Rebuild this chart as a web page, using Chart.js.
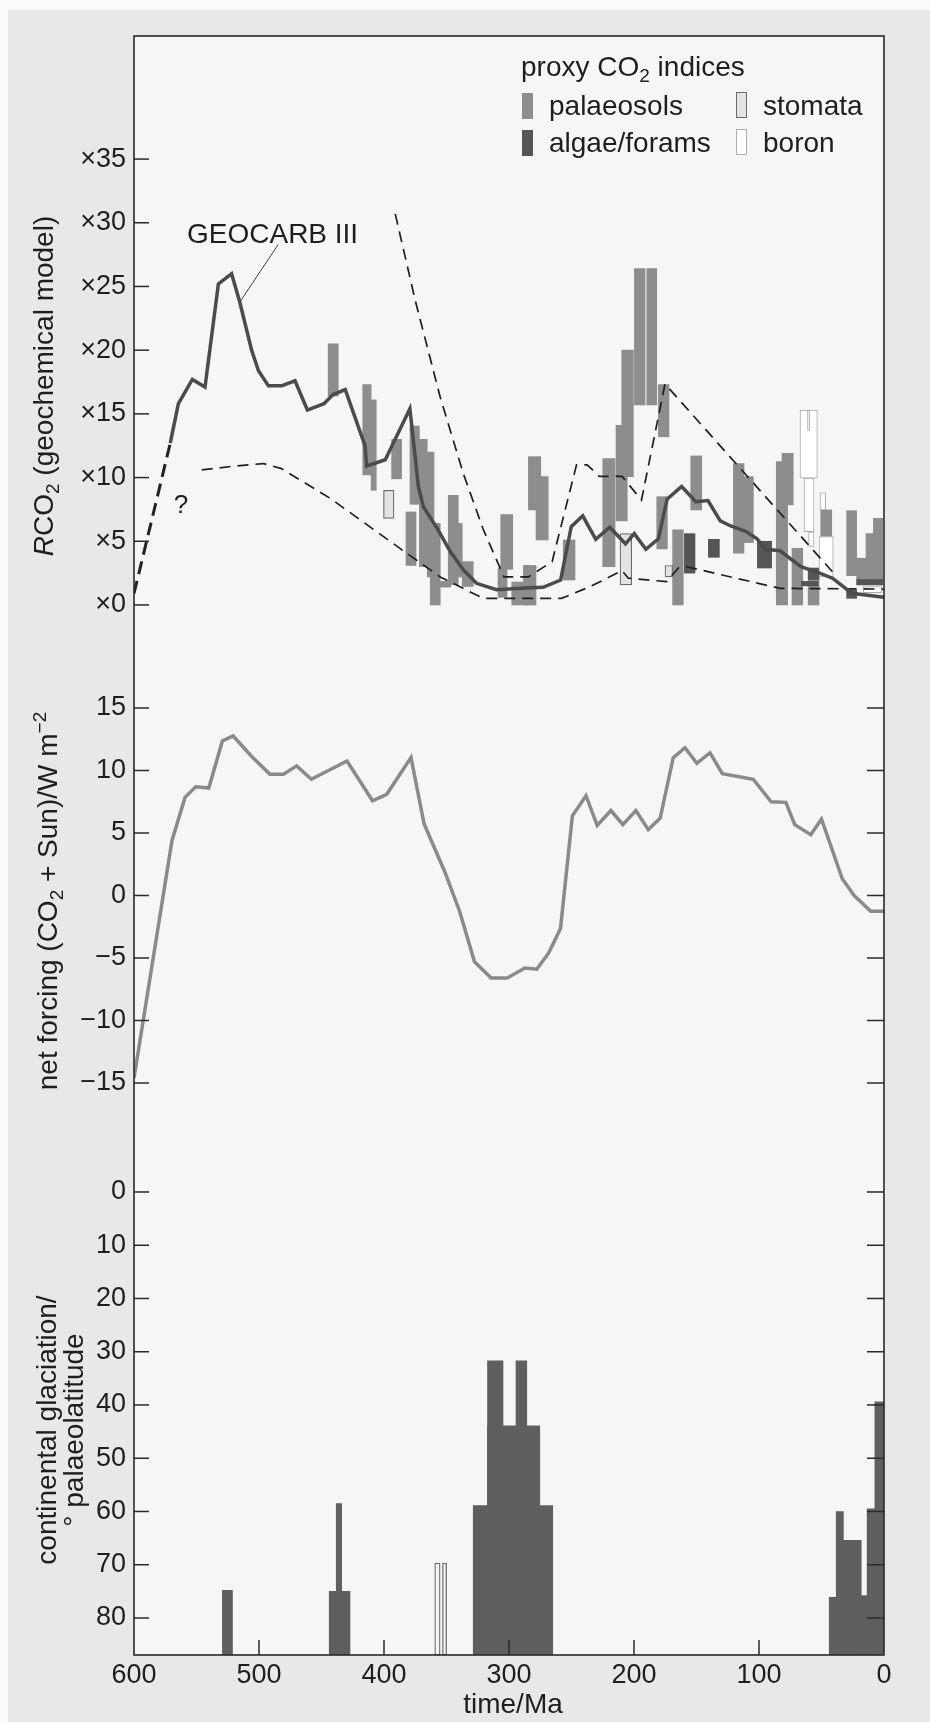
<!DOCTYPE html>
<html>
<head>
<meta charset="utf-8">
<script src="https://cdn.jsdelivr.net/npm/chart.js@4.4.1/dist/chart.umd.min.js"></script>
<style>
  html, body { margin: 0; padding: 0; background: #fbfbfb; }
  canvas { display: block; }
</style>
</head>
<body>
<canvas id="chart" width="930" height="1722"></canvas>
<script>
// ---- data ----
const timeTicks = [600, 500, 400, 300, 200, 100, 0];
const co2Ticks = [0, 5, 10, 15, 20, 25, 30, 35];
const forcingTicks = [-15, -10, -5, 0, 5, 10, 15];
const latTicks = [0, 10, 20, 30, 40, 50, 60, 70, 80];

// GEOCARB III, [Ma, RCO2]
const geocarbEarly = [[600, 0.9], [571, 12.7]];
const geocarb = [
    [571, 12.7], [564.5, 15.8], [553.3, 17.7], [543.2, 17.1], [532.5, 25.2], [521.9, 26.0],
    [515.2, 23.7], [505.9, 20.0], [500.5, 18.4], [492.5, 17.2], [481.9, 17.2], [471.2, 17.6],
    [461.3, 15.3], [448, 15.8], [441, 16.5], [431, 16.9], [415.2, 12.5], [413.8, 10.9],
    [399, 11.4], [379.3, 15.4], [372.5, 9.3], [368.5, 7.7], [358, 6.1], [347, 4.2],
    [336.5, 2.75], [326, 1.7], [310, 1.2], [283, 1.35], [272.7, 1.39], [258.7, 1.96],
    [250.2, 6.15], [241, 7.0], [230.6, 5.15], [219.4, 6.1], [206.8, 4.8], [199.8, 5.6],
    [190.5, 4.37], [180.5, 5.2], [173.5, 8.3], [161.9, 9.3], [150.6, 8.1], [140.8, 8.2],
    [131, 6.6], [122.6, 6.2], [110, 5.75], [101.6, 5.2], [94.6, 4.37], [83.3, 4.26],
    [66.5, 3.0], [52.5, 2.54], [41.2, 2.1], [25.8, 0.92], [0, 0.6]
];
const upperBound = [
    [391, 30.7], [375, 23.9], [355, 16.3], [336.5, 10.3], [320.5, 5.9], [304, 2.2],
    [284.5, 2.2], [265.5, 3.4], [246, 11.0], [237.5, 11.0], [227.8, 10.1], [209.6, 10.1],
    [194, 8.24], [175.2, 17.35], [41.2, 2.6]
];
const lowerBound = [
    [545.8, 10.6], [520, 10.9], [496.5, 11.1], [482, 10.7], [443, 8.37], [381, 4.0],
    [355, 2.2], [326, 0.78], [320, 0.52], [258, 0.52], [235, 1.44], [209.6, 2.7],
    [204.5, 2.1], [174, 1.83], [164.5, 2.9], [158, 3.0], [83, 1.3], [0, 1.25]
];

// proxy ranges, [older Ma, younger Ma, low, high]
const palaeosols = [
    [444.7, 436.6, 16.4, 20.5], [417, 410.3, 10.2, 17.3], [410.3, 406.2, 9.0, 16.1],
    [393.9, 385.9, 9.9, 13.0], [382.4, 374.4, 3.1, 7.3], [379.2, 371.7, 7.9, 14.05],
    [371.7, 365.4, 3.0, 13.0], [365.4, 360, 2.2, 12.0], [363, 355, 0.0, 6.4],
    [355, 346.6, 1.4, 1.85], [348.6, 340.6, 1.6, 8.6], [340.6, 337.4, 2.2, 6.4],
    [337.4, 328.6, 1.45, 3.4], [306.6, 297, 2.8, 7.1], [308.8, 301.6, 0.6, 2.9],
    [297.8, 288.5, 0.0, 1.8], [288.5, 283.2, 0.0, 3.1], [287.2, 278.4, 0.0, 3.1],
    [284.5, 274.6, 7.46, 11.64], [278.4, 268.6, 5.1, 10.07], [256.6, 247.2, 1.96, 5.1],
    [225, 215.2, 3.0, 11.5], [214.4, 205.4, 6.6, 14.1], [209.8, 200.5, 10.07, 20.0],
    [199.7, 191.2, 15.7, 26.4], [189.8, 181.8, 15.7, 26.4], [180.5, 172, 13.2, 17.3],
    [181.8, 173.3, 4.4, 8.5], [169.1, 160.6, 0.0, 5.9], [154.6, 145.8, 7.46, 11.7],
    [120.5, 112, 4.06, 11.1], [112, 104.5, 4.9, 10.07], [86.2, 77.1, 0.0, 11.25],
    [81.6, 72.6, 7.86, 11.9], [73.6, 65, 0.0, 4.45], [60.7, 52, 0.0, 2.8],
    [50.6, 41.8, 5.4, 7.46], [29.9, 21.9, 2.3, 7.4], [21.9, 13.9, 1.96, 3.67],
    [14.4, 8.5, 1.96, 5.6], [8.5, 1.0, 1.96, 6.8]
];
const algaeForams = [
    [159.7, 151.2, 2.5, 5.6], [140.5, 131.7, 3.74, 5.15], [101.3, 89.9, 2.9, 5.0],
    [60.5, 52, 2.0, 2.9], [66, 52.6, 1.5, 1.85], [21.9, 1.0, 1.57, 2.0], [29.9, 21.9, 0.52, 1.18]
];
const stomata = [
    [400.4, 392, 6.8, 9.0], [211.2, 201.8, 1.57, 5.6], [175.2, 169.1, 2.2, 3.1]
];
const boron = [
    [67.2, 53.3, 9.95, 15.3], [64, 56, 5.75, 9.95], [60.3, 56, 4.6, 5.75],
    [51.2, 46.7, 7.46, 8.8], [52, 40.6, 2.2, 5.36], [16.6, 1.9, 0.97, 1.44]
];
const boronNotch = [[61.2, 59.3, 13.7, 15.3]];

// net forcing, [Ma, W m-2]
const forcing = [
    [600, -14.6], [569.6, 4.4], [559.2, 7.85], [550.6, 8.7], [540.2, 8.6], [529.3, 12.36],
    [520.7, 12.76], [505.6, 11.1], [491.3, 9.7], [480.4, 9.7], [469.9, 10.37], [458.1, 9.3],
    [429.6, 10.76], [409.2, 7.58], [397.8, 8.1], [378.4, 11.03], [367.9, 5.72], [351.3, 1.88],
    [339.4, -1.3], [327.6, -5.3], [314.3, -6.6], [301.5, -6.6], [287.3, -5.8], [277.8, -5.9],
    [268.3, -4.6], [258.8, -2.64], [249.3, 6.38], [238.4, 7.98], [229.4, 5.6], [218.5, 6.8],
    [208.9, 5.67], [198.5, 6.8], [188.6, 5.27], [179.1, 6.18], [168.6, 11.03], [159.2, 11.82],
    [149.7, 10.58], [139.2, 11.42], [129.3, 9.75], [104.6, 9.3], [90.3, 7.5], [78.5, 7.45],
    [71.4, 5.67], [58.6, 4.87], [50, 6.12], [33.4, 1.34], [23.9, 0.0], [10.6, -1.26], [0, -1.26]
];

// continental glaciation, [older Ma, younger Ma, palaeolatitude reached]
const glaciation = [
    [529.3, 521.2, 74.8], [443.8, 427.2, 75], [438.2, 433.9, 58.5],
    [328.6, 265, 58.9], [317.2, 275.4, 43.9], [317.2, 304.8, 31.7], [294.4, 285.8, 31.7],
    [43.8, 38.2, 76.1], [38.2, 32.5, 60], [32.5, 18.2, 65.4], [18.2, 13.5, 75.8],
    [13.5, 0, 59.5], [7.3, 0, 39.4]
];
const glaciationOutlined = [[359.4, 355.1, 69.7], [353.2, 349.9, 69.7]];

// ---- layout ----
const FONT = '"Liberation Sans", Arial, Helvetica, sans-serif';
Chart.defaults.font.family = FONT;
Chart.defaults.color = '#1e1e1e';

const W = 930, H = 1722;
const area = {left: 134, right: 884, top: 36, bottom: 1655};
const pxPerMa = (area.right - area.left) / 600;
const latMax = 86.95;

const pts = a => a.map(p => ({x: p[0], y: p[1]}));

function boxes(list, axis, fill, order, line, lw) {
    return list.map(r => ({
        type: 'bar', yAxisID: axis, stack: 'proxy', order: order,
        barThickness: Math.abs(r[0] - r[1]) * pxPerMa,
        backgroundColor: fill, borderColor: line || fill, borderWidth: lw || 0,
        borderSkipped: false,
        data: [{x: (r[0] + r[1]) / 2, y: [r[2], r[3]]}]
    }));
}

const toBase = list => list.map(r => [r[0], r[1], r[2], latMax]);

const datasets = [].concat(
    boxes(palaeosols, 'yC', '#8d8d8d', 9),
    boxes(stomata, 'yC', '#e3e3e3', 8, '#6a6a6a', 1.2),
    boxes(algaeForams, 'yC', '#555555', 7),
    boxes(boron, 'yC', '#ffffff', 6, '#a8a8a8', 1),
    boxes(boronNotch, 'yC', '#f6f6f6', 5, '#a8a8a8', 1),
    boxes(toBase(glaciation), 'yG', '#5f5f5f', 6),
    boxes(toBase(glaciationOutlined), 'yG', '#f6f6f6', 6, '#6a6a6a', 1.3),
    [
        {type: 'line', yAxisID: 'yC', data: pts(upperBound), borderColor: '#1f1f1f',
         borderWidth: 1.7, borderDash: [11, 7], pointRadius: 0, order: 2},
        {type: 'line', yAxisID: 'yC', data: pts(lowerBound), borderColor: '#1f1f1f',
         borderWidth: 1.7, borderDash: [11, 7], pointRadius: 0, order: 2},
        {type: 'line', yAxisID: 'yC', data: pts(geocarbEarly), borderColor: '#222',
         borderWidth: 3, borderDash: [13, 7], pointRadius: 0, order: 1},
        {type: 'line', yAxisID: 'yC', data: pts(geocarb), borderColor: '#4b4b4b',
         borderWidth: 3.5, pointRadius: 0, order: 1},
        {type: 'line', yAxisID: 'yF', data: pts(forcing), borderColor: '#8a8a8a',
         borderWidth: 3.5, pointRadius: 0, order: 1}
    ]
);

function yAxis(weight, stackWeight, min, max, ticks, fmt, reverse) {
    return {
        type: 'linear', position: 'left', stack: 'panels', stackWeight: stackWeight,
        weight: weight, min: min, max: max, reverse: !!reverse, stacked: false, offset: false,
        grid: {display: false, drawTicks: false}, border: {display: false},
        ticks: {padding: 8, autoSkip: false, font: {size: 27}, color: '#1e1e1e', callback: fmt},
        afterBuildTicks: s => { s.ticks = ticks.map(v => ({value: v})); },
        afterFit: s => { s.width = area.left; s.paddingTop = 0; s.paddingBottom = 0; }
    };
}

function drawRich(ctx, parts, x, y, size, align, rotate) {
    ctx.save();
    ctx.translate(x, y);
    if (rotate) ctx.rotate(-Math.PI / 2);
    ctx.textAlign = 'left';
    ctx.textBaseline = 'alphabetic';
    let total = 0;
    const styled = parts.map(p => {
        const small = p.sub || p.sup;
        const font = (p.it ? 'italic ' : '') + (small ? Math.round(size * 0.68) : size) + 'px ' + FONT;
        ctx.font = font;
        const w = ctx.measureText(p.t).width;
        total += w;
        return {p, font, w};
    });
    let cx = align === 'center' ? -total / 2 : 0;
    styled.forEach(s => {
        ctx.font = s.font;
        const dy = s.p.sub ? size * 0.2 : s.p.sup ? -size * 0.38 : 0;
        ctx.fillText(s.p.t, cx, dy);
        cx += s.w;
    });
    ctx.restore();
}

const decor = {
    id: 'decor',
    beforeDraw(chart) {
        const {ctx, chartArea: a} = chart;
        ctx.save();
        ctx.fillStyle = '#fbfbfb';
        ctx.fillRect(0, 0, W, H);
        ctx.fillStyle = '#e8e8e8';
        ctx.fillRect(8, 10, W - 8, H - 10);
        ctx.fillStyle = '#f6f6f6';
        ctx.fillRect(a.left, a.top, a.right - a.left, a.bottom - a.top);
        ctx.restore();
    },
    afterDraw(chart) {
        const {ctx, chartArea: a, scales} = chart;
        const xs = scales.x, yC = scales.yC, yF = scales.yF, yG = scales.yG;
        ctx.save();
        ctx.strokeStyle = '#2a2a2a';
        ctx.lineWidth = 1.5;
        const line = (x1, y1, x2, y2) => { ctx.beginPath(); ctx.moveTo(x1, y1); ctx.lineTo(x2, y2); ctx.stroke(); };

        co2Ticks.forEach(v => { const y = yC.getPixelForValue(v); line(a.left, y, a.left + 15, y); });
        forcingTicks.forEach(v => {
            const y = yF.getPixelForValue(v);
            line(a.left, y, a.left + 15, y);
            line(a.right - 17, y, a.right, y);
        });
        latTicks.forEach(v => {
            const y = yG.getPixelForValue(v);
            line(a.left, y, a.left + 15, y);
            line(a.right - 17, y, a.right, y);
        });
        timeTicks.filter(v => v > 0 && v < 600).forEach(v => {
            const x = xs.getPixelForValue(v);
            line(x, a.bottom, x, a.bottom - 15);
        });
        ctx.lineWidth = 1.6;
        ctx.strokeRect(a.left, a.top, a.right - a.left, a.bottom - a.top);

        // GEOCARB III label and leader
        ctx.lineWidth = 1;
        ctx.strokeStyle = '#444';
        line(xs.getPixelForValue(484.6), yC.getPixelForValue(28.3),
             xs.getPixelForValue(515.2), yC.getPixelForValue(23.8));
        ctx.fillStyle = '#1e1e1e';
        drawRich(ctx, [{t: 'GEOCARB III'}], xs.getPixelForValue(557.6), yC.getPixelForValue(28.4), 28, 'left');
        drawRich(ctx, [{t: '?'}], xs.getPixelForValue(562.4), yC.getPixelForValue(7.2), 26, 'center');

        // axis titles
        drawRich(ctx, [{t: 'R', it: true}, {t: 'CO'}, {t: '2', sub: true}, {t: ' (geochemical model)'}],
            53, 386, 28, 'center', true);
        drawRich(ctx, [{t: 'net forcing (CO'}, {t: '2', sub: true}, {t: ' + Sun)/W m'}, {t: '\u22122', sup: true}],
            57, 901, 28, 'center', true);
        drawRich(ctx, [{t: 'continental glaciation/'}], 56, 1430, 28, 'center', true);
        drawRich(ctx, [{t: '\u00b0 palaeolatitude'}], 83, 1430, 28, 'center', true);
        drawRich(ctx, [{t: 'time/Ma'}], 513, 1713, 28, 'center');

        // legend
        drawRich(ctx, [{t: 'proxy CO'}, {t: '2', sub: true}, {t: ' indices'}], 521, 76, 28, 'left');
        const swatch = (x, y, fill, stroke) => {
            ctx.fillStyle = fill;
            ctx.fillRect(x, y, 11, 26);
            if (stroke) { ctx.strokeStyle = stroke; ctx.lineWidth = 1; ctx.strokeRect(x + 0.5, y + 0.5, 10, 25); }
        };
        swatch(522, 93, '#8d8d8d');
        swatch(522, 130, '#555555');
        swatch(736, 92, '#e3e3e3', '#6a6a6a');
        swatch(736, 129, '#ffffff', '#b0b0b0');
        ctx.fillStyle = '#1e1e1e';
        drawRich(ctx, [{t: 'palaeosols'}], 549, 114.5, 28, 'left');
        drawRich(ctx, [{t: 'algae/forams'}], 549, 152, 28, 'left');
        drawRich(ctx, [{t: 'stomata'}], 763, 114.5, 28, 'left');
        drawRich(ctx, [{t: 'boron'}], 763, 152, 28, 'left');
        ctx.restore();
    }
};

const ctx = document.getElementById('chart').getContext('2d');
const chart = new Chart(ctx, {
    type: 'line',
    data: {datasets: datasets},
    options: {
        responsive: false,
        animation: false,
        devicePixelRatio: 1,
        layout: {padding: {left: 0, top: area.top, right: W - area.right, bottom: 0}},
        plugins: {legend: {display: false}, tooltip: {enabled: false}},
        scales: {
            x: {
                type: 'linear', position: 'bottom', min: 0, max: 600, reverse: true, offset: false,
                grid: {display: false, drawTicks: false, offset: false}, border: {display: false},
                ticks: {stepSize: 100, padding: 4, maxRotation: 0, font: {size: 27}, color: '#1e1e1e',
                        callback: v => String(v)},
                afterBuildTicks: s => { s.ticks = timeTicks.map(v => ({value: v})); },
                afterFit: s => { s.height = H - area.bottom; s.paddingLeft = 0; s.paddingRight = 0; }
            },
            yC: yAxis(3, 604, -2.75, 44.66, co2Ticks, v => '\u00d7' + v),
            yF: yAxis(2, 490, -18.76, 20.44, forcingTicks, v => (v < 0 ? '\u2212' + Math.abs(v) : String(v))),
            yG: yAxis(1, 525, -11.64, latMax, latTicks, v => String(v), true)
        }
    },
    plugins: [decor]
});
</script>
</body>
</html>
